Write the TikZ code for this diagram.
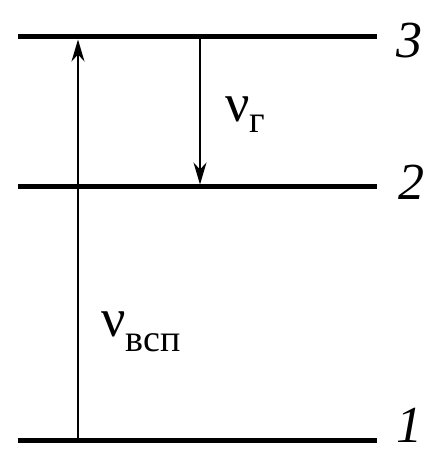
\documentclass[tikz,border=0pt]{standalone}
\usepackage{fontspec}
\setmainfont{Liberation Serif}
\usetikzlibrary{arrows.meta}
\begin{document}
\begin{tikzpicture}[x=1pt, y=1pt,
    level/.style={line width=5pt},
    trans/.style={line width=1.8pt, shorten >=2.5pt, -{Stealth[length=22pt, width=13pt, inset=7pt]}},
    num/.style={font=\fontsize{52}{52}\selectfont\itshape, anchor=base, inner sep=0pt},
    freq/.style={font=\fontsize{54}{54}\selectfont, anchor=base west, inner sep=0pt}]
    \useasboundingbox (0,0) rectangle (445,453);
    % energy levels
    \foreach \lv/\yy in {1/12, 2/266, 3/416} {
        \coordinate (l\lv a) at (18, \yy);
        \coordinate (l\lv b) at (377, \yy);
        \draw[level] (l\lv a) -- (l\lv b);
    }
    \node[num] (n3) at (409, 395) {3};
    \node[num] (n2) at (411, 253) {2};
    \node[num] (n1) at (409, 10) {1};
    % transitions
    \coordinate (up1) at (78, 12);
    \coordinate (up3) at (78, 416);
    \coordinate (dn3) at (200, 416);
    \coordinate (dn2) at (200, 266);
    \draw[trans] (up1) -- (up3);
    \draw[trans] (dn3) -- (dn2);
    \node[freq] (nug) at (225, 331) {ν\raisebox{-11pt}{\fontsize{38}{38}\selectfont г}};
    \node[freq] (nuv) at (101, 116) {ν\raisebox{-15pt}{\fontsize{38}{38}\selectfont всп}};
\end{tikzpicture}
\end{document}
